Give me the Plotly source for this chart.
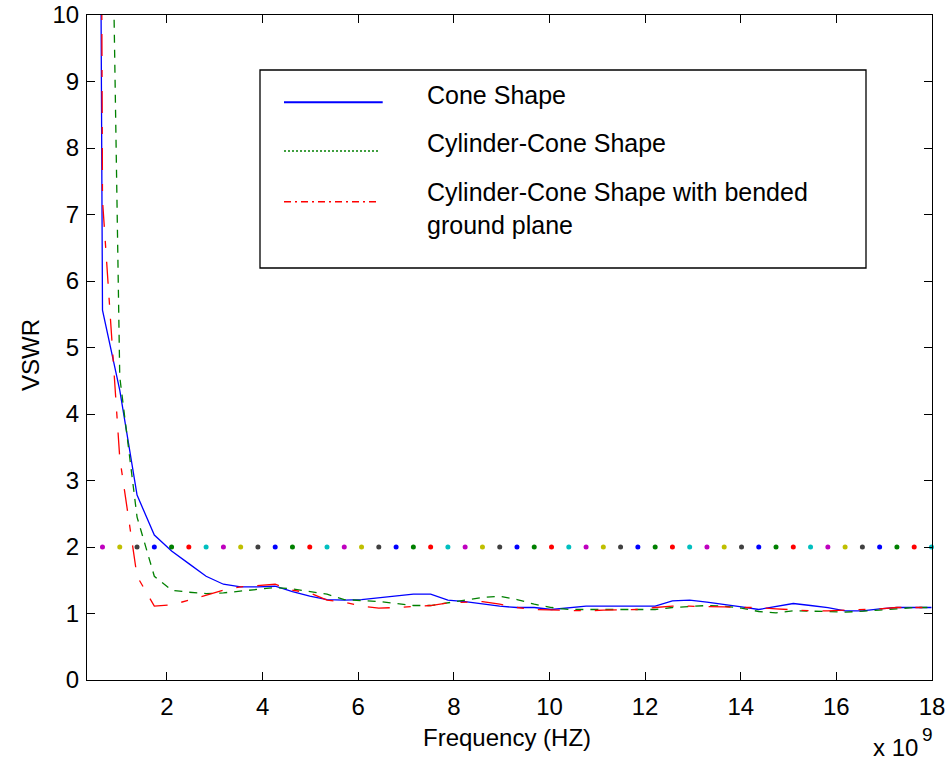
import plotly.graph_objects as go

# Frequency samples (units of 1e9 Hz)
freq_ghz = [0.290, 0.651, 1.012, 1.374, 1.735, 2.096, 2.457, 2.818, 3.180, 3.541,
            3.902, 4.263, 4.624, 4.986, 5.347, 5.708, 6.069, 6.430, 6.792, 7.153,
            7.514, 7.875, 8.236, 8.598, 8.959, 9.320, 9.681, 10.042, 10.404, 10.765,
            11.126, 11.487, 11.848, 12.210, 12.571, 12.932, 13.293, 13.654, 14.016, 14.377,
            14.738, 15.099, 15.460, 15.822, 16.183, 16.544, 16.905, 17.266, 17.628, 17.989]

vswr_cone = [60.0, 5.56, 4.36, 2.78, 2.18, 1.94, 1.75, 1.56, 1.44, 1.40,
             1.40, 1.41, 1.33, 1.26, 1.21, 1.20, 1.21, 1.24, 1.27, 1.29,
             1.29, 1.20, 1.18, 1.14, 1.11, 1.09, 1.09, 1.06, 1.09, 1.11,
             1.11, 1.11, 1.11, 1.11, 1.19, 1.20, 1.17, 1.14, 1.10, 1.06,
             1.11, 1.15, 1.12, 1.09, 1.04, 1.04, 1.07, 1.09, 1.09, 1.09]

vswr_cyl_cone = [60.0, 21.0, 4.56, 2.45, 1.56, 1.35, 1.32, 1.30, 1.31, 1.34,
                 1.37, 1.39, 1.37, 1.33, 1.29, 1.21, 1.20, 1.18, 1.15, 1.12,
                 1.12, 1.16, 1.19, 1.24, 1.26, 1.21, 1.14, 1.09, 1.06, 1.06,
                 1.06, 1.05, 1.05, 1.06, 1.09, 1.11, 1.12, 1.11, 1.08, 1.03,
                 1.01, 1.04, 1.04, 1.03, 1.02, 1.03, 1.05, 1.07, 1.09, 1.09]

vswr_bended = [80.0, 7.22, 3.34, 1.56, 1.11, 1.13, 1.20, 1.28, 1.35, 1.40,
               1.42, 1.44, 1.35, 1.31, 1.20, 1.17, 1.11, 1.08, 1.09, 1.11,
               1.12, 1.16, 1.17, 1.18, 1.14, 1.09, 1.06, 1.05, 1.04, 1.04,
               1.05, 1.06, 1.06, 1.09, 1.11, 1.11, 1.11, 1.10, 1.09, 1.09,
               1.07, 1.05, 1.04, 1.04, 1.05, 1.05, 1.07, 1.09, 1.09, 1.09]

vswr_limit = 2.0

legend_labels = ["Cone Shape", "Cylinder-Cone Shape",
                 "Cylinder-Cone Shape with bended<br>ground plane"]

x_ticks = [2, 4, 6, 8, 10, 12, 14, 16, 18]
y_ticks = [0, 1, 2, 3, 4, 5, 6, 7, 8, 9, 10]

X_MIN, X_MAX = 0.327, 18.0

# MATLAB-like colour order
C_BLUE, C_GREEN, C_RED = "#0000FF", "#008000", "#FF0000"
C_CYAN, C_MAG, C_YEL, C_BLK = "#00BFBF", "#BF00BF", "#BFBF00", "#404040"
color_cycle = [C_CYAN, C_MAG, C_YEL, C_BLK, C_BLUE, C_GREEN, C_RED]

FONT = "Liberation Sans, Arial, Helvetica, sans-serif"

# Figure geometry (pixels)
W, H = 951, 762
ML, MR, MT, MB = 87, 19, 15, 82
PW, PH = W - ML - MR, H - MT - MB


def px_x(px):
    return (px - ML) / PW


def px_y(py):
    return (MT + PH - py) / PH


fig = go.Figure()

fig.add_trace(go.Scatter(x=freq_ghz, y=vswr_cone, mode="lines",
                         line=dict(color=C_BLUE, width=1.3), name=legend_labels[0]))
fig.add_trace(go.Scatter(x=freq_ghz, y=vswr_cyl_cone, mode="lines",
                         line=dict(color=C_GREEN, width=1.3, dash="8px,7px"),
                         name=legend_labels[1]))
fig.add_trace(go.Scatter(x=freq_ghz, y=vswr_bended, mode="lines",
                         line=dict(color=C_RED, width=1.3, dash="22px,14px,7px,14px"),
                         name=legend_labels[2]))

# VSWR = 2 reference drawn as individually coloured dots
dot_x, dot_c = [], []
for i, f in enumerate(freq_ghz):
    if X_MIN <= f <= X_MAX:
        dot_x.append(f)
        dot_c.append(color_cycle[i % len(color_cycle)])
fig.add_trace(go.Scatter(x=dot_x, y=[vswr_limit] * len(dot_x), mode="markers",
                         marker=dict(color=dot_c, size=5, line=dict(width=0)),
                         cliponaxis=False, name="VSWR 2"))

axis_common = dict(showline=True, linecolor="black", linewidth=1, mirror="ticks",
                   ticks="inside", ticklen=8, tickwidth=1, tickcolor="black",
                   showgrid=False, zeroline=False,
                   tickfont=dict(family=FONT, size=24, color="black"))

fig.update_xaxes(range=[X_MIN, X_MAX], tickvals=x_ticks,
                 ticktext=[str(t) for t in x_ticks], ticklabelstandoff=5, **axis_common)
fig.update_yaxes(range=[0, 10], tickvals=y_ticks,
                 ticktext=[str(t) for t in y_ticks], ticklabelstandoff=2, **axis_common)

annotations = [
    dict(text="Frequency (HZ)", x=px_x(506.5), y=px_y(737), xanchor="center", yanchor="middle"),
    dict(text="VSWR", x=px_x(30), y=px_y(355), xanchor="center", yanchor="middle", textangle=-90),
    dict(text="x 10", x=px_x(920), y=px_y(747), xanchor="right", yanchor="middle"),
    dict(text="9", x=px_x(927.5), y=px_y(734), xanchor="center", yanchor="middle",
         font=dict(family=FONT, size=19, color="black")),
]

# Legend box
shapes = [dict(type="rect", xref="paper", yref="paper",
               x0=px_x(260), x1=px_x(866), y0=px_y(268), y1=px_y(70),
               line=dict(color="black", width=1.3), fillcolor="white", layer="above")]
legend_rows = [
    (C_BLUE, "solid", 2, 382.7, 102.3, 95),
    (C_GREEN, "2px,2px", 1.3, 379, 151, 143.3),
    (C_RED, "7px,4px,2px,4px", 1.6, 376.7, 201.7, 208.3),
]
for (col, dash, w, xe, yl, yt), label in zip(legend_rows, legend_labels):
    shapes.append(dict(type="line", xref="paper", yref="paper",
                       x0=px_x(284), x1=px_x(xe), y0=px_y(yl), y1=px_y(yl),
                       line=dict(color=col, width=w, dash=dash), layer="above"))
    annotations.append(dict(text=label, x=px_x(425), y=px_y(yt), xanchor="left",
                            yanchor="middle", align="left",
                            font=dict(family=FONT, size=25, color="black")))

for a in annotations:
    a.setdefault("font", dict(family=FONT, size=24, color="black"))
    a.update(xref="paper", yref="paper", showarrow=False)

fig.update_layout(width=W, height=H, margin=dict(l=ML, r=MR, t=MT, b=MB, autoexpand=False),
                  paper_bgcolor="white", plot_bgcolor="white", showlegend=False,
                  annotations=annotations, shapes=shapes,
                  font=dict(family=FONT, size=24, color="black"))

fig.write_html("out.html")
